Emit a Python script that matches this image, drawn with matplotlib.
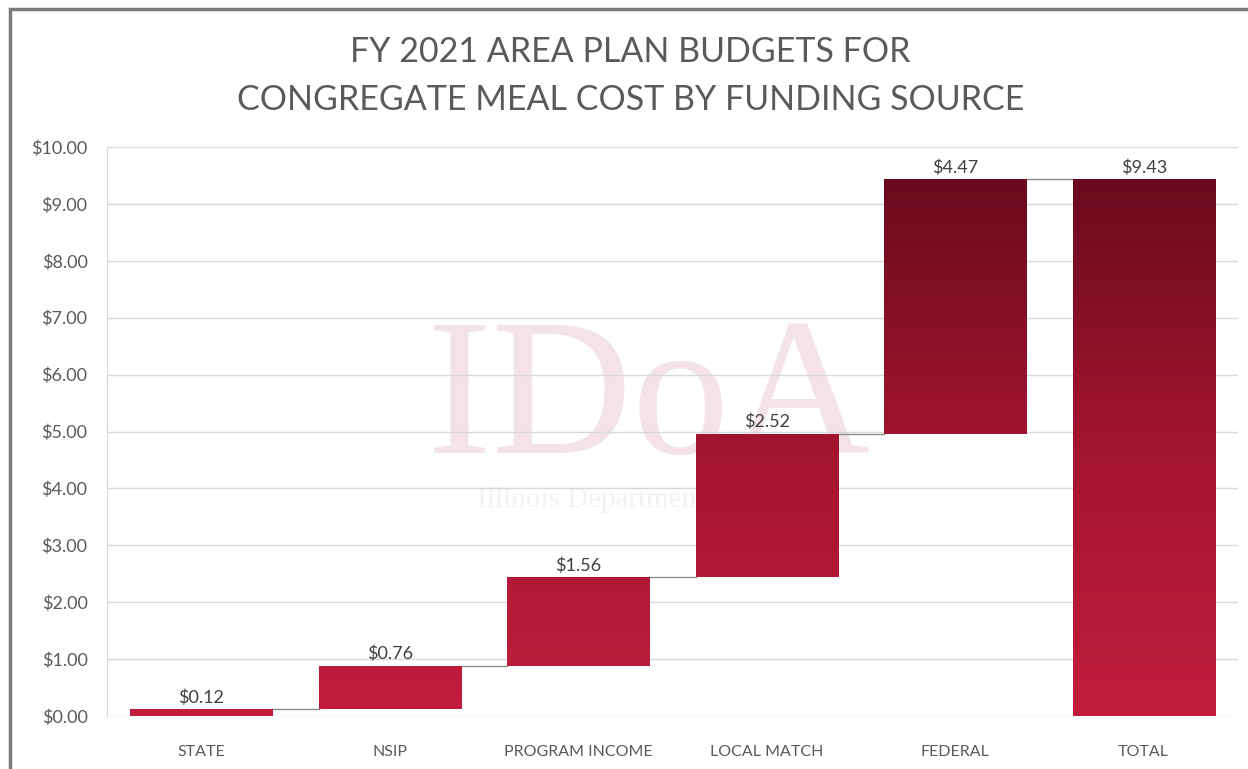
import numpy as np
import matplotlib.pyplot as plt
from matplotlib.colors import LinearSegmentedColormap
from matplotlib.patches import Rectangle
from matplotlib.ticker import FuncFormatter

# data
categories = ['STATE', 'NSIP', 'PROGRAM INCOME', 'LOCAL MATCH', 'FEDERAL', 'TOTAL']
amounts = [0.12, 0.76, 1.56, 2.52, 4.47]
total = 9.43

plt.rcParams['font.family'] = ['Lato', 'DejaVu Sans']

fig = plt.figure(figsize=(12.48, 7.69), dpi=100)
ax = fig.add_axes([107 / 1248, 53 / 769, 1131 / 1248, 569 / 769])

# frame around the chart
fig.patches.append(Rectangle((10 / 1248, -0.1), 1.2, 1.1 - 9 / 769,
                             transform=fig.transFigure, fill=False,
                             edgecolor='#7a7a7a', linewidth=2.5, zorder=10))

# waterfall positions
heights = amounts + [total]
bottoms = list(np.cumsum([0] + amounts[:-1])) + [0]
x = np.arange(len(categories))
width = 0.755

bars = ax.bar(x, heights, width=width, bottom=bottoms, facecolor='none',
              edgecolor='none', zorder=3)

# gradient fill, dark at the top, bright at the bottom
cmap = LinearSegmentedColormap.from_list('red', ['#c21d3d', '#a3152f', '#6a0a1e'])
for b in bars:
    x0, y0 = b.get_x(), b.get_y()
    x1, y1 = x0 + b.get_width(), y0 + b.get_height()
    grad = np.linspace(y1, y0, 200).reshape(-1, 1)
    im = ax.imshow(grad, extent=[x0, x1, y0, y1], aspect='auto', cmap=cmap,
                   vmin=0, vmax=total, origin='upper', zorder=3)
    im.set_clip_path(b)

# connector lines
levels = np.cumsum(amounts)
for i, lvl in enumerate(levels):
    ax.plot([x[i] + width / 2, x[i + 1] - width / 2], [lvl, lvl],
            color='#8c8c8c', linewidth=1, zorder=2)

# data labels
for i, (b, v) in enumerate(zip(bars, heights)):
    ax.annotate(f'${v:.2f}', (b.get_x() + b.get_width() / 2, b.get_y() + b.get_height()),
                xytext=(0, 2.5), textcoords='offset points', ha='center', va='bottom',
                fontsize=13, color='#404040', zorder=5)

# watermark (faint logo behind the plot)
ax.text(2.37, 5.45, 'IDoA', fontsize=140, family='Liberation Serif', color='#f4e3e6',
        ha='center', va='center', zorder=0)
ax.text(2.37, 3.8, 'Illinois Department on Aging', fontsize=21, family='Liberation Serif',
        color='#f2f2f2', ha='center', va='center', zorder=0)

ax.set_xlim(-0.5, 5.5)
ax.set_ylim(0, 10)
ax.set_yticks(np.arange(0, 11, 1))
ax.yaxis.set_major_formatter(FuncFormatter(lambda v, p: f'${v:.2f}'))
ax.set_xticks(x)
ax.set_xticklabels(categories)
ax.tick_params(axis='y', length=0, pad=14, labelsize=13, labelcolor='#595959')
ax.tick_params(axis='x', length=0, pad=21, labelsize=11.5, labelcolor='#595959')
ax.grid(axis='y', color='#d9d9d9', linewidth=1, zorder=1)
ax.set_axisbelow(True)
for s in ['top', 'right', 'bottom']:
    ax.spines[s].set_visible(False)
ax.spines['left'].set_color('#d9d9d9')

fig.text(0.505, 0.933, 'FY 2021 AREA PLAN BUDGETS FOR', ha='center', va='center',
         fontsize=24.5, color='#5a5a5a')
fig.text(0.505, 0.87, 'CONGREGATE MEAL COST BY FUNDING SOURCE', ha='center', va='center',
         fontsize=24.5, color='#5a5a5a')

fig.savefig('out.png', dpi=100)
